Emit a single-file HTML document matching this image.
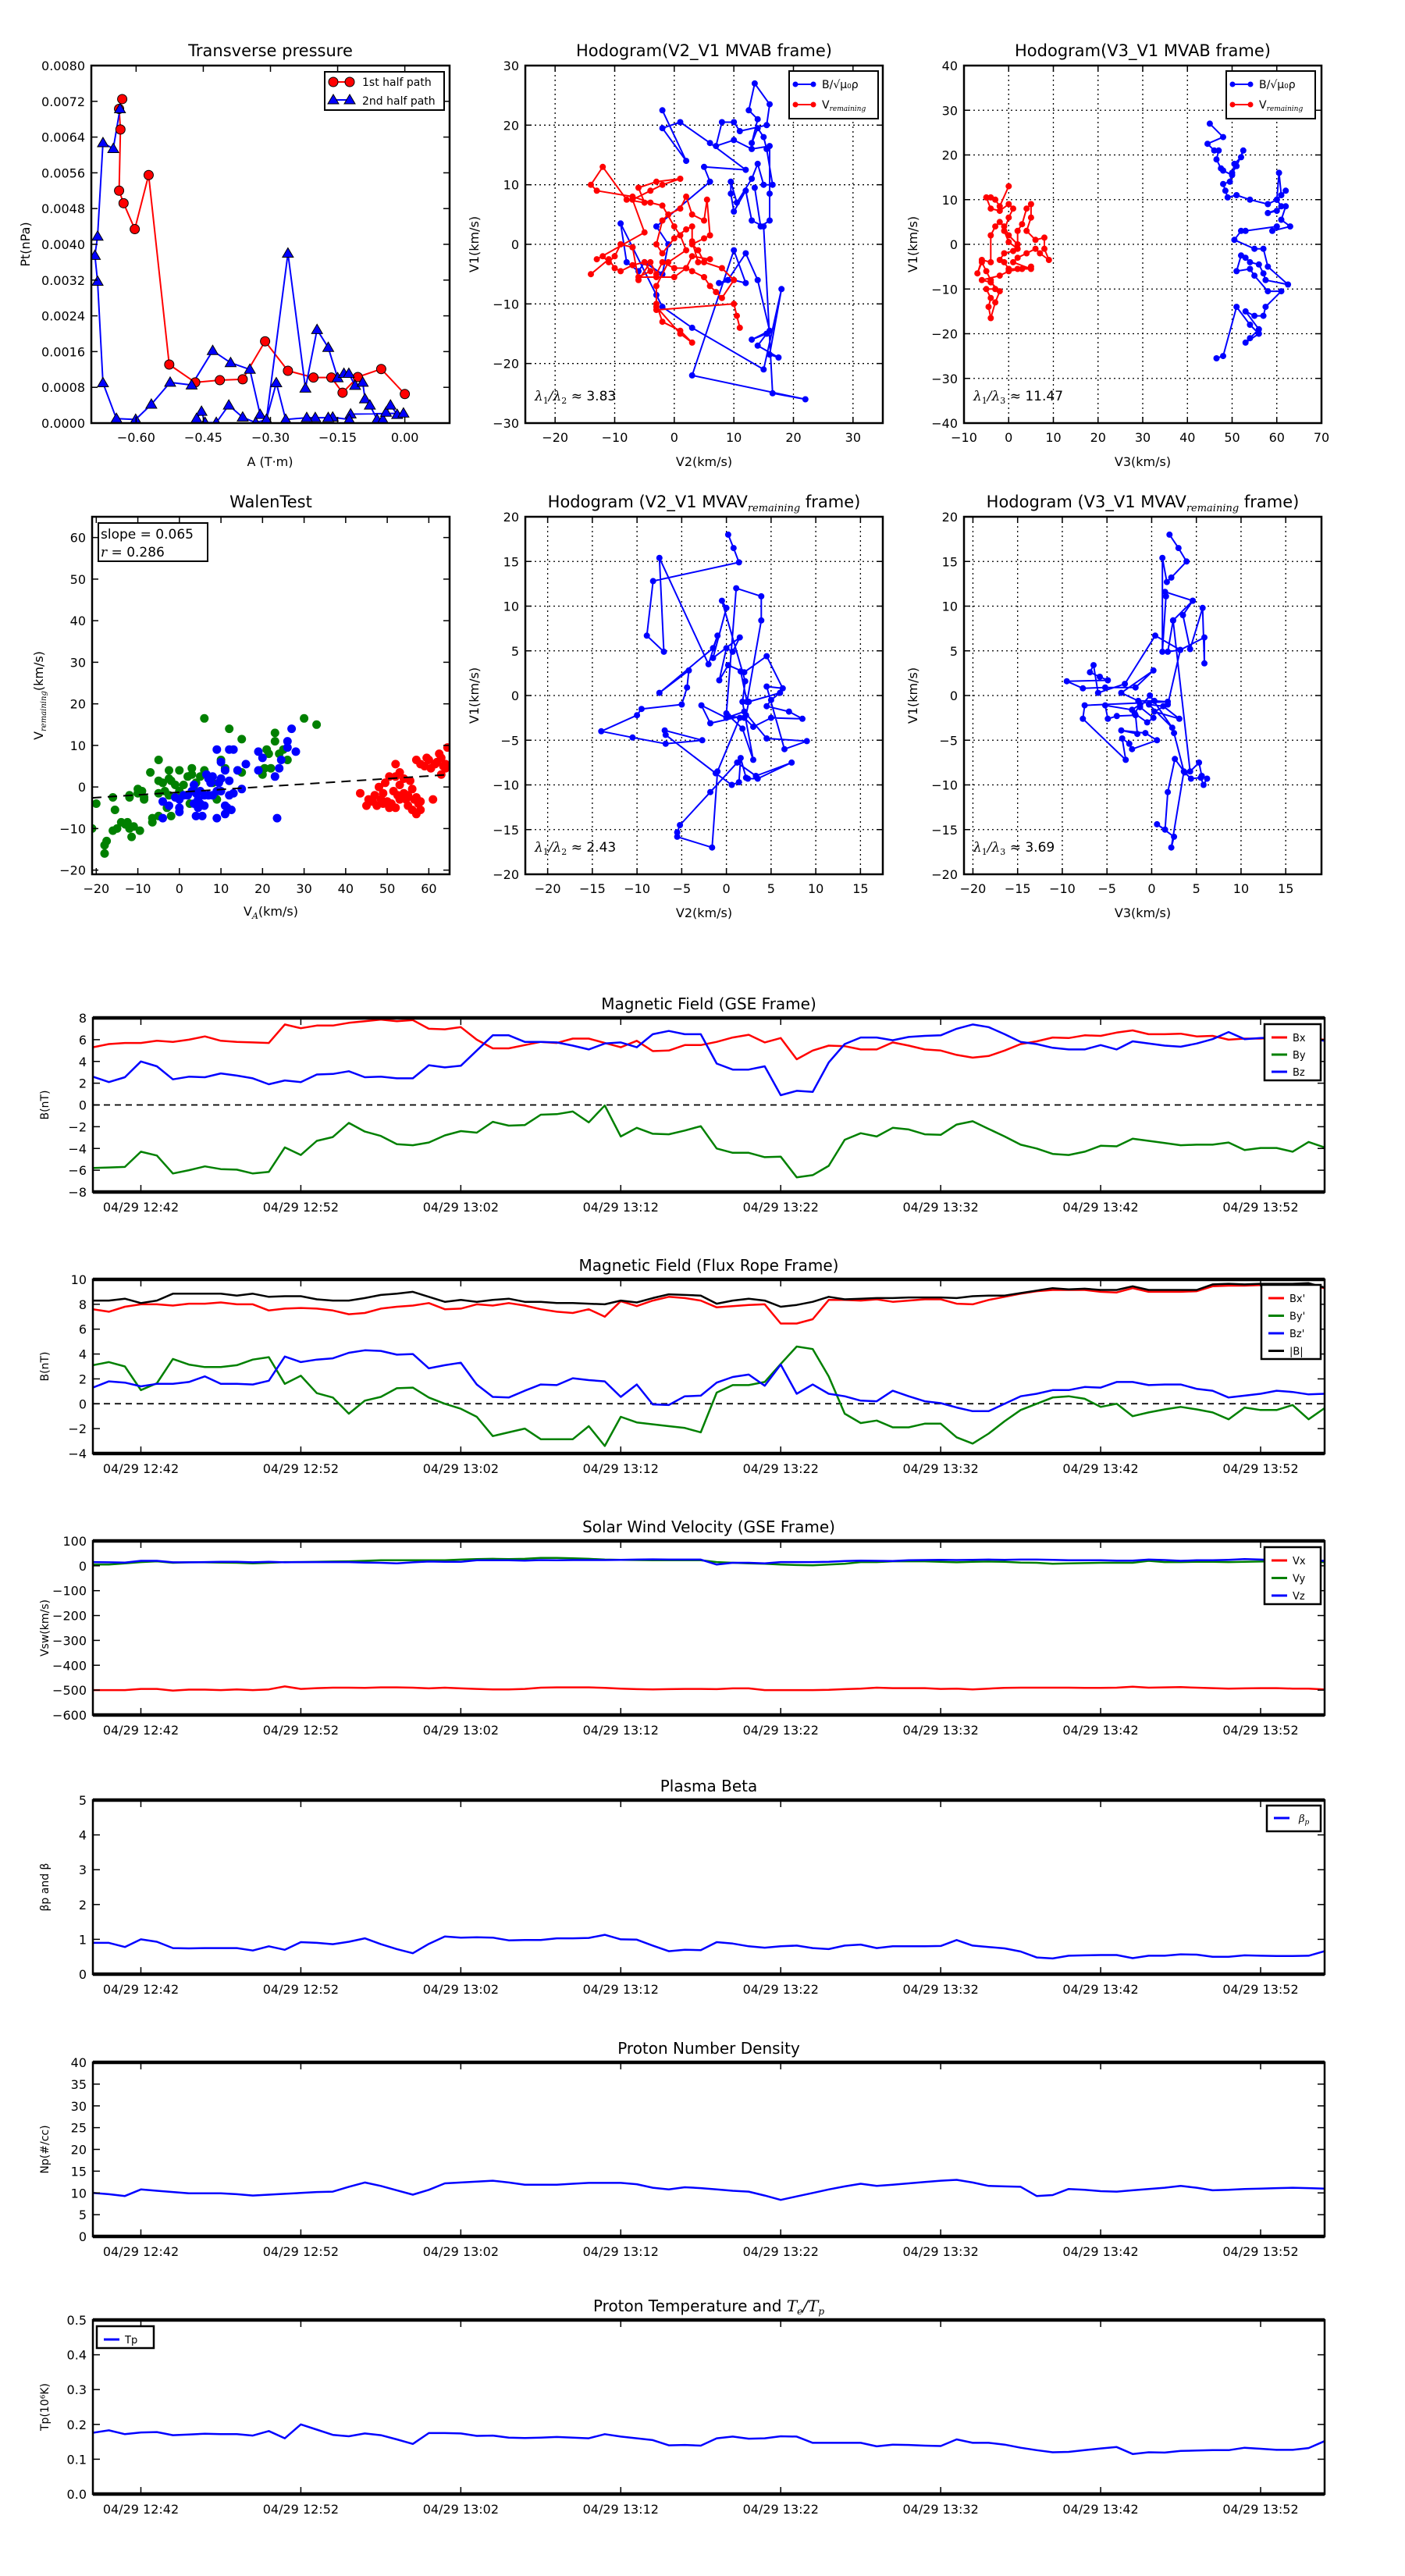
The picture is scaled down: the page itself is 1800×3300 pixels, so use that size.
<!DOCTYPE html>
<html><head><meta charset="utf-8"><title>MVAB / Walen / solar wind summary</title>
<style>
html,body{margin:0;padding:0;background:#fff;}
svg{display:block;font-family:"DejaVu Sans","Liberation Sans",sans-serif;}
</style></head>
<body>
<svg id="fig" xmlns="http://www.w3.org/2000/svg" width="1800" height="3300" viewBox="0 0 1800 3300"></svg>
<script>
// ---------------- DATA ----------------
// Transverse pressure
const ptRedA=[0.0,-0.0527,-0.105,-0.139,-0.164,-0.204,-0.261,-0.312,-0.362,-0.413,-0.468,-0.526,-0.572,-0.603,-0.628,-0.638,-0.635,-0.638,-0.631];
const ptRedP=[0.00065,0.00121,0.00103,0.00068,0.00102,0.00102,0.00117,0.00183,0.00098,0.00096,0.00091,0.00131,0.00555,0.00434,0.00492,0.0052,0.00657,0.00703,0.00725];
const ptBlueA=[-0.636,-0.651,-0.674,-0.686,-0.692,-0.686,-0.674,-0.644,-0.601,-0.566,-0.524,-0.476,-0.429,-0.389,-0.346,-0.323,-0.309,-0.261,-0.222,-0.196,-0.171,-0.150,-0.136,-0.125,-0.111,-0.094,-0.089,-0.078,-0.062,-0.049,-0.042,-0.032,-0.017,-0.003,-0.121,-0.124,-0.161,-0.171,-0.200,-0.219,-0.266,-0.287,-0.309,-0.333,-0.362,-0.393,-0.421,-0.446,-0.454,-0.465];
const ptBlueP=[0.00703,0.00614,0.00627,0.00418,0.00375,0.00317,0.0009,0.0001,0.00008,0.00042,0.00091,0.00085,0.00162,0.00135,0.0012,0.00019,0.00008,0.0038,0.00078,0.00209,0.00169,0.00101,0.00111,0.00111,0.00084,0.00091,0.00054,0.0004,0.00008,0.00008,0.00024,0.0004,0.00019,0.00022,0.0002,0.00008,0.00013,0.00012,0.00012,0.00012,0.00008,0.0009,0.00008,0.00001,0.00013,0.0004,0.00001,0.00001,0.00026,0.0001];
// Walen test
const walenGreen=[[-21,-10],[-20,-4],[-18,-14],[-18,-16],[-17.5,-13],[-16,-2.5],[-16,-10.5],[-15.5,-5.5],[-15,-10],[-14,-8.5],[-13,-9],[-12.5,-8.5],[-12,-2.5],[-12,-2],[-12,-10],[-11.5,-12],[-11,-9.5],[-10,-0.5],[-10,-1.5],[-9.5,-10.5],[-9,-1],[-8.5,-2.5],[-8.5,-3],[-7,3.5],[-6.5,-7.5],[-6.5,-8.5],[-5,6.5],[-5,1.5],[-5,-1.5],[-5,-7],[-4,1],[-3.5,-1],[-3,-5],[-2.5,4],[-2.5,2],[-2.5,-2],[-2,-7],[-2,1.5],[-1,0.5],[0,4],[0,-1],[1,0.5],[2,2.5],[2.5,-4],[3,4.5],[3,3],[4,1],[4,-1],[5,2.5],[6,16.5],[6,4],[8,1],[9,-3],[10,6.5],[10,2],[11,4.5],[12,14],[14,4],[15,11.5],[15,3.5],[19.5,4],[20,3],[20.5,4.5],[21,9],[21.5,8],[22,4.5],[23,13],[23,11],[24,8],[25,9],[26,6.5],[30,16.5],[33,15]];
const walenBlue=[[-4,-3.5],[-4,-7.5],[-2.5,-4.5],[-1,-2.5],[0,-3],[0,-5],[0,-6],[1,-2],[2,-2],[3,-1],[3.5,-4],[3.5,0.5],[4,-1.5],[4,-7],[4.5,-3],[4.5,-5],[5,-1],[5,-4],[5.5,-7],[6,-2],[6,-4.5],[6.5,3],[7,2],[7,-2],[7.5,1],[8,2.5],[8,-2],[9,9],[9,-7.5],[9,-1],[9.5,1],[10,6],[10,2],[10,-1],[11,4],[11,-4.5],[11,-6.5],[11.5,-5],[12,9],[12,1.5],[12,-2],[12.5,-5.5],[13,9],[13,-1.5],[14,4],[15,-0.5],[16,5.5],[19,4],[19,8.5],[20,7],[23,2.5],[23.5,-7.5],[24,4.5],[24.5,6.5],[26,9.5],[26,11],[27,14],[28,8.5]];
const walenRed=[[43.5,-1.5],[45,-4.5],[45.5,-3],[46.5,-3.5],[47,-2],[47.5,-4.5],[48,0],[48.5,-3],[49,-1.5],[49,-4],[49.5,1],[50,-3.5],[50.5,-5],[50.5,2.5],[51,-4],[51.5,-1],[52,2.5],[52,5.5],[52,-5],[52.5,-2],[53,3.5],[53,-3],[53,0.5],[54,2],[54,-1.5],[54.5,-3],[55,-4.5],[55,-2],[55.5,1.5],[56,-0.5],[56,-5.5],[56.5,-3],[57,-2.5],[57,-6.5],[57,6.5],[57.5,-4],[58,-5.5],[58,-3.5],[58,5.5],[59,5],[59.5,7],[60,6.5],[60.5,4.5],[61,-3],[61.5,5.5],[62,6],[62.5,8],[63,3],[63,7],[63.5,5],[64,4.5],[64.5,9.5],[64,5.5]];
const walenSlope=0.065;
const walenIntercept=-1.25;
// Hodogram V2-V1 MVAB
const hodo1Blue=[[-2,22.5],[2,14],[-2,19.5],[1,20.5],[6,17],[12,12.5],[5,13],[6,10.5],[-3,3],[-1,0],[-2,-5],[-5,-3],[-6,-4.5],[-8,-3],[-9,3.5],[-7,-0.5],[-3,-8.5],[-2,-10.5],[3,-14],[15,-21],[18,-7.5],[16,-18.5],[17.5,-19],[14,-17],[15.5,-15],[13,-16],[16,-14.5],[14,-6],[12,-1.5],[9,-6],[7.5,-6.5],[10,-6],[12,-6.5],[10,-1],[3,-22],[22,-26],[16.5,-25],[15,3],[13,4],[12,9],[10,5.5],[9.5,8.5],[9.5,10.5],[10.5,7],[13,11],[14,13.5],[15,10],[16.5,10],[15.5,16],[15,18],[14,19.5],[13,17],[14,21],[12.5,22.5],[13.5,27],[16,23.5],[15.5,20],[11,19],[10,20.5],[8,20.5],[7,16.5],[10,17.5],[13,16],[16,16.5],[16,8.5],[16,4],[14.5,3],[13.5,9.5]];
const hodo1Red=[[-14,-5],[-11,-2.5],[-10,-4],[-9,-4.5],[-7,-3.5],[-5,-3],[-4,-4.5],[-6,-5.5],[-3,-5.5],[0,-5.5],[2,-4],[3,-4.5],[5,-5.5],[6,-7],[7,-8],[8,-9],[10,-6],[8,-4],[5,-3],[4,-1],[3,0],[5,1],[6,1.5],[5.5,7.5],[5,4],[3,5],[2,8],[1,6],[-1,5],[-2,4],[-3,0],[-2,-1.5],[0,1],[2,2.5],[3,3],[3,0.5],[4,-3],[6,-2.5],[3,-2],[2,-4],[0,-4],[-2,-3],[-3,-5],[-4,-3],[-6,-6],[-7,-0.5],[-9,0],[-10,-2],[-11,-3],[-12,-2],[-13,-2.5],[-5,2],[-7,7.5],[-4,9],[-2,10],[1,11],[-3,10.5],[-6,9.5],[-5,7],[-8,7.5],[-12,13],[-14,10],[-13,9],[-7,8],[-4,7],[-2,6.5],[0,3],[1,1.5],[2,-1],[-1,-3],[-3,-7],[-3,-10],[-2,-13],[1,-14.5],[3,-16.5],[1,-15],[-3,-10.5],[-3,-11],[10,-10],[10.5,-12],[11,-14]];
const hodo1Ratio="3.83";
// Hodogram V3-V1 MVAB
const hodo2Blue=[[45,27],[48,24],[44.5,22.5],[46,21],[47,21],[46.5,19],[47.5,17],[48,16.5],[50,15.5],[50.5,18],[52,19.5],[52.5,21],[51,17.5],[50,16],[49.5,14],[48,13.5],[48.5,12],[49,10.5],[51,11],[54,10],[58,9],[60,10],[60.5,16],[61,11],[62,12],[60,10],[61,8.5],[60,7.5],[58,7],[62,8.5],[61,5.5],[63,4],[59,3],[60,4],[53,3],[52,3],[50.5,1],[55,-1],[57,-1],[58,-5],[62.5,-9],[57.5,-8],[57,-6.5],[56,-4.5],[54,-4],[53,-3],[52,-2.5],[51,-6],[54,-5.5],[55,-7],[58,-10.5],[61,-10.5],[57.5,-14],[57,-16],[55,-16],[53,-15],[56,-19],[54,-21],[53,-22],[56,-20],[54,-18],[51,-14],[48,-25],[46.5,-25.5]];
const hodo2Red=[[0,13],[-2,8.5],[-3,10],[-4,10.5],[-5,10.5],[-4,8],[-2,7.5],[0,9],[1,8],[0,6],[-1,3],[0,0.5],[2,-1],[2,3],[3,4.5],[4,8],[5,9],[5,6],[4,3],[6,1],[8,1.5],[8,-1],[9,-3.5],[7,-2],[6,-1],[4,-2],[2,-3],[1,-4],[5,-5.5],[2,-5.5],[0,-5.5],[-1,-4],[-2,-3.5],[-1,-2],[1,-1.5],[2,0],[0,2],[-1,4],[-2,5],[-3,4],[-4,2],[-4,-4],[-6,-3.5],[-7,-6.5],[-6,-4],[-5,-6],[-4,-8],[-3,-10],[-5,-10],[-4,-12],[-4.5,-14],[-4,-16.5],[-3,-13],[-2,-10.5],[-4,-8.5],[-6,-8],[-2,-7],[0,-6],[3,-5.5],[5,-5]];
const hodo2Ratio="11.47";
// Hodogram V2-V1 MVAV
const hodo3Blue=[[0.2,18],[0.8,16.5],[1.4,14.9],[-8.2,12.8],[-8.9,6.7],[-7.0,4.9],[-7.5,15.4],[-2,3.5],[-1,6.7],[-1.5,5.3],[-7.5,0.3],[-4.2,2.8],[-4.4,0.9],[-5,-1],[-9.5,-1.5],[-10,-2.2],[-14,-4],[-10.5,-4.7],[-6.8,-5.4],[-2.7,-5],[-6.9,-3.9],[-6.8,-4.4],[-1.2,-8.7],[0.6,-10],[1.4,-9.7],[1.6,-7],[2.2,-9.2],[2.4,-9.3],[3.5,-9.3],[7.3,-7.5],[3.3,-9],[1.2,-7.5],[-1.8,-10.8],[-5.2,-14.5],[-5.5,-15.3],[-5.5,-15.8],[-1.6,-17],[-1,-8.5],[1.5,-2.5],[0.2,-2.3],[2,-2.5],[3,-3.5],[5,-2.5],[8.5,-2.6],[7,-1.8],[4.5,-1.2],[5,-0.5],[6,0.3],[2.5,-0.7],[2.2,-2.2],[-1.8,-3.1],[-2.8,-1.1],[0,-2.5],[2,-1.8],[4.5,-4.8],[9,-5.1],[6.5,-6],[4.5,1],[6.3,0.8],[4.5,4.4],[2,2.6],[0.2,3.4],[-0.8,1.7],[0,5.3],[0.7,4.9],[1.5,6.5],[-1.5,4.2],[0,9.8],[-0.5,10.6],[2.1,1.6],[1.8,-0.7],[3,-7.2],[1.8,-3.7],[0,-2],[1.1,12],[3.9,11.1],[3.9,8.4],[2.3,-0.7],[1.6,2.7]];
const hodo3Ratio="2.43";
// Hodogram V3-V1 MVAV
const hodo4Blue=[[2,18],[3,16.5],[3.9,15],[2.2,13.2],[1.7,12.7],[1.2,15.4],[1.2,4.9],[1.6,11.1],[1.5,11.6],[4.6,10.6],[2.4,8.4],[1.8,4.9],[3.2,5.1],[0.4,6.7],[-3,1.3],[-6,0.3],[-6.5,3.4],[-6.9,2.6],[-5.8,2.1],[-4.9,1.7],[-9.5,1.6],[-7.7,0.8],[-5.2,0.9],[-1.8,0.9],[0.2,2.8],[-3.4,0.3],[-1.5,-0.6],[0.3,-0.6],[1.8,-0.7],[-7.5,-1.1],[-7.7,-2.6],[-2.9,-7.2],[-3.3,-4.8],[-2.5,-5.4],[-2.2,-6],[0.6,-5],[-0.7,-4.2],[-3.4,-3.9],[-1.6,-4.3],[-1.8,-2.2],[-3.9,-2.3],[-4.9,-2.6],[-5.2,-1.1],[-2.2,-1.6],[-1.3,-1],[-1.9,-2],[-0.5,-3],[0.2,-2.5],[-1.3,-1.3],[-0.2,0],[2.3,-3.6],[-0.3,-1],[1.3,-1.2],[3.1,-2.6],[0.3,-1.8],[1.8,-1],[3.2,5.1],[5.9,6.5],[5.9,3.6],[5.7,9.8],[4.3,5.2],[3.5,9],[4.6,10.6],[2.4,8.4],[4.3,-8.5],[5.3,-7.5],[5.6,-9],[6.2,-9.3],[5.8,-10],[5.5,-9.2],[4.4,-9.3],[3.7,-8.6],[2.6,-7.1],[1.8,-10.8],[1.5,-15],[0.6,-14.4],[2.5,-15.8],[2.2,-17],[3.6,-8.5],[2.5,-4.2]];
const hodo4Ratio="3.69";
// Time series (1-minute samples starting 04/29 12:39)
const startMinute=39;
const timeTickMinutes=[42,52,62,72,82,92,102,112];
const timeTickLabels=["04/29 12:42","04/29 12:52","04/29 13:02","04/29 13:12","04/29 13:22","04/29 13:32","04/29 13:42","04/29 13:52"];
const Bx=[5.3,5.6,5.7,5.7,5.9,5.8,6.0,6.3,5.9,5.8,5.75,5.7,7.4,7.05,7.3,7.3,7.55,7.7,7.85,7.7,7.8,7.0,6.95,7.15,6.0,5.2,5.2,5.5,5.8,5.7,6.1,6.1,5.7,5.3,5.9,4.95,5.0,5.5,5.5,5.8,6.2,6.45,5.75,6.15,4.2,5.0,5.45,5.4,5.1,5.1,5.75,5.45,5.1,5.0,4.6,4.35,4.5,5.0,5.6,5.85,6.2,6.15,6.4,6.35,6.65,6.85,6.5,6.5,6.55,6.3,6.35,6.0,6.1,6.1,6.2,6.3,6.1,6.0];
const By=[-5.8,-5.75,-5.7,-4.3,-4.65,-6.3,-6.0,-5.65,-5.9,-5.95,-6.3,-6.15,-3.9,-4.6,-3.3,-2.95,-1.65,-2.45,-2.85,-3.6,-3.7,-3.45,-2.8,-2.4,-2.55,-1.55,-1.9,-1.85,-0.9,-0.85,-0.6,-1.6,-0.05,-2.9,-2.1,-2.65,-2.7,-2.35,-1.95,-4.0,-4.4,-4.4,-4.8,-4.75,-6.65,-6.45,-5.6,-3.2,-2.6,-2.9,-2.1,-2.25,-2.7,-2.75,-1.8,-1.5,-2.2,-2.9,-3.65,-4.0,-4.5,-4.6,-4.3,-3.75,-3.8,-3.1,-3.3,-3.5,-3.7,-3.65,-3.65,-3.45,-4.15,-3.95,-3.95,-4.3,-3.4,-3.9];
const Bz=[2.6,2.1,2.55,4.0,3.55,2.35,2.6,2.55,2.9,2.7,2.45,1.9,2.25,2.1,2.8,2.85,3.1,2.55,2.6,2.45,2.45,3.65,3.45,3.6,5.0,6.4,6.4,5.8,5.8,5.75,5.45,5.1,5.65,5.75,5.3,6.5,6.8,6.5,6.5,3.8,3.25,3.25,3.55,0.9,1.3,1.2,3.9,5.6,6.2,6.2,5.95,6.25,6.35,6.4,7.0,7.4,7.15,6.5,5.8,5.6,5.25,5.1,5.1,5.5,5.1,5.85,5.65,5.45,5.35,5.65,6.05,6.7,6.05,6.15,6.2,6.2,6.1,5.9];
const BxFR=[7.6,7.4,7.8,8.0,8.0,7.9,8.05,8.05,8.15,8.0,8.0,7.5,7.65,7.7,7.65,7.5,7.2,7.3,7.65,7.8,7.9,8.1,7.6,7.65,8.0,7.9,8.1,7.9,7.6,7.4,7.3,7.6,7.0,8.25,7.85,8.3,8.6,8.5,8.3,7.75,7.85,7.95,8.0,6.45,6.45,6.8,8.35,8.35,8.3,8.4,8.2,8.3,8.4,8.4,8.05,8.0,8.35,8.6,8.85,9.05,9.15,9.15,9.15,9.0,8.95,9.3,9.0,9.0,9.0,9.05,9.45,9.5,9.5,9.55,9.6,9.6,9.55,9.3];
const ByFR=[3.1,3.35,3.0,1.1,1.65,3.6,3.15,2.95,2.95,3.1,3.55,3.75,1.6,2.25,0.85,0.5,-0.8,0.25,0.55,1.25,1.3,0.5,0.0,-0.4,-1.05,-2.6,-2.3,-2.0,-2.85,-2.85,-2.85,-1.8,-3.4,-1.05,-1.5,-1.65,-1.8,-1.95,-2.3,0.9,1.5,1.5,1.75,3.2,4.6,4.4,2.2,-0.8,-1.55,-1.35,-1.9,-1.9,-1.6,-1.6,-2.7,-3.2,-2.4,-1.4,-0.5,0.0,0.5,0.6,0.4,-0.25,0.0,-1.0,-0.7,-0.45,-0.25,-0.45,-0.7,-1.25,-0.3,-0.5,-0.5,-0.1,-1.25,-0.35];
const BzFR=[1.3,1.8,1.7,1.4,1.6,1.6,1.75,2.2,1.6,1.6,1.55,1.85,3.8,3.35,3.55,3.65,4.1,4.3,4.25,3.95,4.0,2.85,3.1,3.3,1.55,0.55,0.5,1.05,1.55,1.5,2.05,1.9,1.8,0.55,1.55,-0.05,-0.1,0.6,0.65,1.7,2.15,2.35,1.45,3.15,0.8,1.55,0.8,0.6,0.25,0.2,1.05,0.6,0.2,0.05,-0.3,-0.6,-0.6,0.0,0.6,0.8,1.1,1.1,1.35,1.3,1.75,1.75,1.5,1.55,1.55,1.2,1.05,0.5,0.65,0.8,1.05,0.95,0.75,0.8];
const Bmag=[8.3,8.3,8.45,8.1,8.3,8.85,8.85,8.85,8.85,8.7,8.85,8.6,8.65,8.65,8.4,8.3,8.3,8.5,8.75,8.85,9.0,8.6,8.2,8.35,8.2,8.35,8.45,8.2,8.2,8.1,8.1,8.05,8.0,8.3,8.15,8.5,8.8,8.75,8.7,8.05,8.3,8.45,8.3,7.8,7.95,8.2,8.6,8.4,8.45,8.5,8.5,8.55,8.55,8.55,8.5,8.65,8.7,8.7,8.9,9.1,9.3,9.2,9.25,9.15,9.15,9.45,9.15,9.15,9.15,9.15,9.6,9.65,9.6,9.65,9.65,9.65,9.7,9.35];
const Vx=[-500,-500,-500,-495,-495,-502,-498,-498,-500,-497,-500,-497,-485,-495,-492,-490,-490,-491,-489,-489,-490,-493,-490,-493,-495,-497,-497,-495,-490,-489,-489,-489,-491,-494,-496,-497,-496,-495,-495,-496,-493,-493,-500,-500,-500,-500,-499,-496,-494,-490,-492,-492,-492,-495,-494,-497,-494,-491,-490,-490,-490,-490,-491,-491,-490,-486,-490,-489,-488,-490,-492,-494,-493,-492,-492,-494,-494,-497];
const Vy=[5,5,10,15,18,12,14,14,13,12,10,12,15,15,16,17,18,20,22,22,22,22,22,25,27,28,27,28,32,32,30,28,25,24,23,22,22,22,22,15,12,10,8,5,3,2,5,8,15,15,18,18,18,16,14,16,17,16,13,12,8,10,11,12,12,12,20,15,15,16,16,15,16,17,18,18,18,15];
const Vz=[15,14,13,20,20,14,14,15,16,16,14,16,14,15,15,15,15,13,12,10,14,17,16,16,22,22,22,21,23,22,23,23,23,24,25,26,25,25,25,5,12,12,10,15,15,15,16,19,21,20,19,22,23,24,23,24,25,24,25,25,24,22,22,22,21,21,25,23,20,22,22,24,27,25,22,22,20,20];
const betaP=[0.9,0.9,0.78,1.0,0.93,0.75,0.74,0.75,0.75,0.75,0.68,0.8,0.7,0.92,0.9,0.86,0.93,1.03,0.86,0.72,0.6,0.87,1.08,1.05,1.06,1.05,0.97,0.98,0.98,1.03,1.03,1.04,1.13,1.0,0.99,0.82,0.66,0.7,0.69,0.92,0.88,0.8,0.76,0.8,0.82,0.75,0.72,0.82,0.85,0.75,0.8,0.8,0.8,0.81,0.98,0.82,0.78,0.74,0.65,0.48,0.45,0.53,0.54,0.55,0.55,0.46,0.53,0.53,0.57,0.56,0.5,0.5,0.54,0.53,0.52,0.52,0.53,0.66];
const Np=[10.0,9.7,9.3,10.8,10.5,10.2,9.9,9.9,9.9,9.7,9.4,9.6,9.8,10.0,10.2,10.3,11.4,12.4,11.6,10.6,9.6,10.7,12.2,12.4,12.6,12.8,12.4,11.9,11.9,11.9,12.1,12.3,12.3,12.3,12.0,11.2,10.8,11.3,11.1,10.8,10.5,10.3,9.4,8.4,9.2,10.0,10.8,11.5,12.1,11.6,11.9,12.2,12.5,12.8,13.0,12.4,11.6,11.5,11.4,9.3,9.5,10.9,10.7,10.4,10.3,10.6,10.9,11.2,11.6,11.2,10.6,10.7,10.9,11.0,11.1,11.2,11.1,11.0];
const Tp=[0.176,0.183,0.172,0.177,0.178,0.169,0.171,0.173,0.172,0.172,0.168,0.181,0.16,0.2,0.185,0.17,0.166,0.174,0.169,0.157,0.144,0.175,0.175,0.174,0.167,0.168,0.162,0.161,0.162,0.164,0.162,0.16,0.172,0.165,0.16,0.155,0.14,0.141,0.139,0.16,0.165,0.159,0.16,0.166,0.165,0.147,0.147,0.147,0.147,0.137,0.142,0.141,0.139,0.138,0.157,0.147,0.147,0.142,0.133,0.126,0.12,0.121,0.126,0.131,0.135,0.115,0.12,0.119,0.124,0.125,0.126,0.126,0.133,0.13,0.127,0.127,0.132,0.152];

// ---------------- HELPERS ----------------
const NS='http://www.w3.org/2000/svg';
const svg=document.getElementById('fig');
let clipN=0;
function E(tag,attrs,parent){const e=document.createElementNS(NS,tag);for(const k in attrs)e.setAttribute(k,attrs[k]);(parent||svg).appendChild(e);return e;}
function txt(s,x,y,size,anchor,parent,extra){const t=E('text',Object.assign({x:x,y:y,'font-size':size,'text-anchor':anchor||'middle',fill:'#000'},extra||{}),parent);t.textContent=s;return t;}
function fmtMinus(s){return String(s).replace('-','\u2212');}

function axes(name,box,xr,yr,o){
  const g=E('g',{});
  
  
  const sx=v=>box.x+(v-xr[0])/(xr[1]-xr[0])*box.w;
  const sy=v=>box.y+box.h-(v-yr[0])/(yr[1]-yr[0])*box.h;
  const id='clip'+(clipN++);
  const cp=E('clipPath',{id:id},g);
  E('rect',{x:box.x,y:box.y,width:box.w,height:box.h},cp);
  const tl=o.tickLen||8;
  if(o.grid){
    o.xticks.forEach(v=>{const l=E('line',{x1:sx(v),x2:sx(v),y1:box.y,y2:box.y+box.h,stroke:'#000','stroke-width':1.3,'stroke-dasharray':'2,4'},g);
      
      });
    o.yticks.forEach(v=>{const l=E('line',{x1:box.x,x2:box.x+box.w,y1:sy(v),y2:sy(v),stroke:'#000','stroke-width':1.3,'stroke-dasharray':'2,4'},g);
      
      });
  }
  const plot=E('g',{'clip-path':'url(#'+id+')'},g);
  
  
  // ticks
  o.xticks.forEach((v,i)=>{
    const X=sx(v);
    const t1=E('line',{x1:X,x2:X,y1:box.y+box.h,y2:box.y+box.h-tl,stroke:'#000','stroke-width':1.5},g);
    
    
    const t2=E('line',{x1:X,x2:X,y1:box.y,y2:box.y+tl,stroke:'#000','stroke-width':1.5},g);
    
    
    const lab=o.xlabels?o.xlabels[i]:fmtMinus(o.xfmt?o.xfmt(v):v);
    const tt=txt(lab,X,box.y+box.h+(o.xlabOff||24),o.tickSize||16,'middle',g);
    
    
  });
  o.yticks.forEach(v=>{
    const Y=sy(v);
    const t1=E('line',{x1:box.x,x2:box.x+tl,y1:Y,y2:Y,stroke:'#000','stroke-width':1.5},g);
    
    
    const t2=E('line',{x1:box.x+box.w,x2:box.x+box.w-tl,y1:Y,y2:Y,stroke:'#000','stroke-width':1.5},g);
    
    
    const tt=txt(fmtMinus(o.yfmt?o.yfmt(v):v),box.x-8,Y+6,o.tickSize||16,'end',g);
    
    
  });
  const fr=E('rect',{x:box.x,y:box.y,width:box.w,height:box.h,fill:'none',stroke:'#000','stroke-width':2.5},g);
  
  
  if(o.thickTB){
    const a=E('line',{x1:box.x,x2:box.x+box.w,y1:box.y,y2:box.y,stroke:'#000','stroke-width':4.5},g);
    
    
    const b=E('line',{x1:box.x,x2:box.x+box.w,y1:box.y+box.h,y2:box.y+box.h,stroke:'#000','stroke-width':4.5},g);
    
    
  }
  if(o.title){const t=txt(o.title,box.x+box.w/2,box.y-12,o.titleSize||21,'middle',g);
    
    }
  return {g,plot,sx,sy,box};
}
function polyline(ax,xs,ys,color,w,name){
  const pts=xs.map((x,i)=>ax.sx(x).toFixed(1)+','+ax.sy(ys[i]).toFixed(1)).join(' ');
  const p=E('polyline',{points:pts,fill:'none',stroke:color,'stroke-width':w,'stroke-linejoin':'round'},ax.plot);
  
  
  return p;
}
function dots(ax,pairs,color,r,name){
  const g=E('g',{fill:color},ax.plot);
  
  
  pairs.forEach(p=>{const c=E('circle',{cx:ax.sx(p[0]).toFixed(1),cy:ax.sy(p[1]).toFixed(1),r:r},g);
    
    });
}
function rotLabel(s,x,y,size,parent){
  const t=txt(s,x,y,size,'middle',parent,{transform:'rotate(-90 '+x+' '+y+')'});
  return t;
}

// ---------------- TRANSVERSE PRESSURE ----------------
(function(){
  const ax=axes('transverse-pressure-chart',{x:117,y:84,w:459,h:458},[-0.7,0.1],[0,0.008],
    {xticks:[-0.6,-0.45,-0.3,-0.15,0],yticks:[0,0.0008,0.0016,0.0024,0.0032,0.004,0.0048,0.0056,0.0064,0.0072,0.008],
     xfmt:v=>v.toFixed(2),yfmt:v=>v.toFixed(4),title:'Transverse pressure',tickSize:16});
  polyline(ax,ptRedA,ptRedP,'#f00',2,'first-half-path-line');
  polyline(ax,ptBlueA,ptBlueP,'#00f',2,'second-half-path-line');
  const gr=E('g',{},ax.plot);
  
  
  ptRedA.forEach((a,i)=>{const c=E('circle',{cx:ax.sx(a),cy:ax.sy(ptRedP[i]),r:6,fill:'#f00',stroke:'#000','stroke-width':1},gr);
    
    });
  const gb=E('g',{},ax.plot);
  
  
  ptBlueA.forEach((a,i)=>{const X=ax.sx(a),Y=ax.sy(ptBlueP[i]);
    const t=E('polygon',{points:(X)+','+(Y-7)+' '+(X-7)+','+(Y+5)+' '+(X+7)+','+(Y+5),fill:'#00f',stroke:'#000','stroke-width':1},gb);
    
    });
  const xl=txt('A (T\u00b7m)',346,597,16,'middle');
  
  
  const yl=rotLabel('Pt(nPa)',38,313,16);
  
  
  const lg=E('g',{});
  
  
  E('rect',{x:416,y:92,width:153,height:49,fill:'#fff',stroke:'#000','stroke-width':2},lg);
  E('line',{x1:427,x2:448,y1:105,y2:105,stroke:'#f00','stroke-width':2},lg);
  E('circle',{cx:427,cy:105,r:6,fill:'#f00',stroke:'#000'},lg);
  E('circle',{cx:448,cy:105,r:6,fill:'#f00',stroke:'#000'},lg);
  const l1=txt('1st half path',464,110,14,'start',lg);
  
  
  E('line',{x1:427,x2:448,y1:128,y2:128,stroke:'#00f','stroke-width':2},lg);
  E('polygon',{points:'427,121 420,133 434,133',fill:'#00f',stroke:'#000'},lg);
  E('polygon',{points:'448,121 441,133 455,133',fill:'#00f',stroke:'#000'},lg);
  const l2=txt('2nd half path',464,134,14,'start',lg);
  
  
})();

// ---------------- HODOGRAMS ----------------
function lambdaText(parent,x,y,sub2,val){
  const t=E('text',{x:x,y:y,'font-size':17,'font-family':'"DejaVu Serif","Liberation Serif",serif'},parent);
  
  
  const a=E('tspan',{'font-style':'italic'},t);a.textContent='\u03bb';
  const b=E('tspan',{'font-size':11,dy:4},t);b.textContent='1';
  const c=E('tspan',{dy:-4,'font-style':'italic'},t);c.textContent='/\u03bb';
  const d=E('tspan',{'font-size':11,dy:4},t);d.textContent=sub2;
  const e=E('tspan',{dy:-4,'font-family':'"DejaVu Sans",sans-serif'},t);e.textContent=' \u2248 '+val;
}
function hodoLegend(x,y,showRed){
  const lg=E('g',{});
  
  
  E('rect',{x:x,y:y,width:114,height:61,fill:'#fff',stroke:'#000','stroke-width':2},lg);
  E('line',{x1:x+8,x2:x+31,y1:y+17,y2:y+17,stroke:'#00f','stroke-width':2},lg);
  E('circle',{cx:x+8,cy:y+17,r:3.5,fill:'#00f'},lg);E('circle',{cx:x+31,cy:y+17,r:3.5,fill:'#00f'},lg);
  const t1=txt('B/\u221a\u03bc\u2080\u03c1',x+42,y+22,14,'start',lg);
  
  
  E('line',{x1:x+8,x2:x+31,y1:y+43,y2:y+43,stroke:'#f00','stroke-width':2},lg);
  E('circle',{cx:x+8,cy:y+43,r:3.5,fill:'#f00'},lg);E('circle',{cx:x+31,cy:y+43,r:3.5,fill:'#f00'},lg);
  const t2=E('text',{x:x+42,y:y+48,'font-size':14},lg);
  
  
  const s1=E('tspan',{},t2);s1.textContent='V';
  const s2=E('tspan',{'font-size':9,dy:3,'font-style':'italic','font-family':'"DejaVu Serif",serif'},t2);s2.textContent='remaining';
}
function hodoPlot(name,box,xr,yr,xt,yt,title,xlab,blue,red,sub2,ratio,titleSub){
  const ax=axes(name,box,xr,yr,{xticks:xt,yticks:yt,grid:true,tickSize:16});
  // title
  const t=E('text',{x:box.x+box.w/2,y:box.y-12,'font-size':21,'text-anchor':'middle'},ax.g);
  
  
  if(titleSub){
    const a=E('tspan',{},t);a.textContent=title[0];
    const b=E('tspan',{'font-size':13,dy:5,'font-style':'italic','font-family':'"DejaVu Serif",serif'},t);b.textContent='remaining';
    const c=E('tspan',{dy:-5},t);c.textContent=title[1];
  } else t.textContent=title;
  polyline(ax,blue.map(p=>p[0]),blue.map(p=>p[1]),'#00f',2,'alfven-velocity-line');
  dots(ax,blue,'#00f',4,'alfven-velocity');
  if(red){polyline(ax,red.map(p=>p[0]),red.map(p=>p[1]),'#f00',2,'v-remaining-line');
    dots(ax,red,'#f00',4,'v-remaining');}
  const xl=txt(xlab,box.x+box.w/2,box.y+box.h+55,16,'middle');
  
  
  const yl=rotLabel('V1(km/s)',box.x-60,box.y+box.h/2,16);
  
  
  lambdaText(ax.g,box.x+12,box.y+box.h-29,sub2,ratio);
  return ax;
}
hodoPlot('hodogram-v2-v1-mvab',{x:673,y:84,w:458,h:458},[-25,35],[-30,30],[-20,-10,0,10,20,30],[-30,-20,-10,0,10,20,30],
  'Hodogram(V2_V1 MVAB frame)','V2(km/s)',hodo1Blue,hodo1Red,'2',hodo1Ratio,false);
hodoLegend(1011,91);
hodoPlot('hodogram-v3-v1-mvab',{x:1235,y:84,w:458,h:458},[-10,70],[-40,40],[-10,0,10,20,30,40,50,60,70],[-40,-30,-20,-10,0,10,20,30,40],
  'Hodogram(V3_V1 MVAB frame)','V3(km/s)',hodo2Blue,hodo2Red,'3',hodo2Ratio,false);
hodoLegend(1571,91);
hodoPlot('hodogram-v2-v1-mvav',{x:673,y:662,w:458,h:458},[-22.5,17.5],[-20,20],[-20,-15,-10,-5,0,5,10,15],[-20,-15,-10,-5,0,5,10,15,20],
  ['Hodogram (V2_V1 MVAV',' frame)'],'V2(km/s)',hodo3Blue,null,'2',hodo3Ratio,true);
hodoPlot('hodogram-v3-v1-mvav',{x:1235,y:662,w:458,h:458},[-21,19],[-20,20],[-20,-15,-10,-5,0,5,10,15],[-20,-15,-10,-5,0,5,10,15,20],
  ['Hodogram (V3_V1 MVAV',' frame)'],'V3(km/s)',hodo4Blue,null,'3',hodo4Ratio,true);

// ---------------- WALEN TEST ----------------
(function(){
  const ax=axes('walen-test-chart',{x:118,y:662,w:458,h:458},[-21,65],[-21,65],
    {xticks:[-20,-10,0,10,20,30,40,50,60],yticks:[-20,-10,0,10,20,30,40,50,60],title:'WalenTest',tickSize:16});
  dots(ax,walenGreen,'#008000',5.5,'walen-green');
  dots(ax,walenBlue,'#00f',5.5,'walen-blue');
  dots(ax,walenRed,'#f00',5.5,'walen-red');
  const fx=[-21,65];
  const fl=E('line',{x1:ax.sx(fx[0]),y1:ax.sy(walenSlope*fx[0]+walenIntercept),x2:ax.sx(fx[1]),y2:ax.sy(walenSlope*fx[1]+walenIntercept),stroke:'#000','stroke-width':2,'stroke-dasharray':'12,8'},ax.plot);
  
  
  const bx=E('g',{});
  
  
  E('rect',{x:126,y:670,width:140,height:49,fill:'#fff',stroke:'#000','stroke-width':2},bx);
  txt('slope = '+walenSlope.toFixed(3),129,690,17,'start',bx);
  const r=E('text',{x:129,y:713,'font-size':17},bx);
  const r1=E('tspan',{'font-style':'italic','font-family':'"DejaVu Serif",serif'},r);r1.textContent='r';
  const r2=E('tspan',{},r);r2.textContent=' = 0.286';
  const xl=E('text',{x:347,y:1173,'font-size':16,'text-anchor':'middle'});
  
  
  const a=E('tspan',{},xl);a.textContent='V';
  const b=E('tspan',{'font-size':11,dy:4,'font-style':'italic','font-family':'"DejaVu Serif",serif'},xl);b.textContent='A';
  const c=E('tspan',{dy:-4},xl);c.textContent='(km/s)';
  const yl=E('text',{x:55,y:891,'font-size':16,'text-anchor':'middle',transform:'rotate(-90 55 891)'});
  
  
  const d=E('tspan',{},yl);d.textContent='V';
  const e=E('tspan',{'font-size':10,dy:4,'font-style':'italic','font-family':'"DejaVu Serif",serif'},yl);e.textContent='remaining';
  const f=E('tspan',{dy:-4},yl);f.textContent='(km/s)';
})();

// ---------------- TIME SERIES ----------------
function tsPanel(name,top,yr,yticks,yfmt,series,title,ylabel,zero,legend){
  const box={x:119,y:top,w:1578,h:223};
  const ax=axes(name,box,[39,116],yr,{xticks:timeTickMinutes,xlabels:timeTickLabels,yticks:yticks,yfmt:yfmt,
    tickSize:16,xlabOff:25,thickTB:true,tickLen:9});
  const t=E('text',{x:908,y:top-11,'font-size':20,'text-anchor':'middle'},ax.g);
  
  
  if(Array.isArray(title)){
    const a=E('tspan',{},t);a.textContent=title[0];
    const b=E('tspan',{'font-style':'italic','font-family':'"DejaVu Serif",serif'},t);b.textContent='T';
    const c=E('tspan',{'font-size':12,dy:4,'font-style':'italic','font-family':'"DejaVu Serif",serif'},t);c.textContent='e';
    const d=E('tspan',{dy:-4,'font-style':'italic','font-family':'"DejaVu Serif",serif'},t);d.textContent='/T';
    const e=E('tspan',{'font-size':12,dy:4,'font-style':'italic','font-family':'"DejaVu Serif",serif'},t);e.textContent='p';
  } else t.textContent=title;
  if(zero){const z=E('line',{x1:box.x,x2:box.x+box.w,y1:ax.sy(0),y2:ax.sy(0),stroke:'#000','stroke-width':1.8,'stroke-dasharray':'8,6'},ax.plot);
    
    }
  series.forEach(s=>{
    const xs=s.data.map((v,i)=>startMinute+i);
    polyline(ax,xs,s.data,s.color,2.5,'series-'+s.key);
  });
  const yl=rotLabel(ylabel,62,top+box.h/2,14);
  
  
  if(legend){
    const lg=E('g',{});
    
    
    const h=legend.h||(series.length*22+14);
    E('rect',{x:legend.x,y:legend.y,width:legend.w,height:h,fill:'#fff',stroke:'#000','stroke-width':2.5},lg);
    series.forEach((s,i)=>{
      const Y=legend.y+17+i*(legend.dy||22);
      E('line',{x1:legend.x+9,x2:legend.x+29,y1:Y,y2:Y,stroke:s.color,'stroke-width':3},lg);
      const lt=txt(s.label,legend.x+36,Y+5,13,'start',lg);
      
      
    });
  }
  return ax;
}
tsPanel('magnetic-field-gse-chart',1304,[-8,8],[-8,-6,-4,-2,0,2,4,6,8],null,
  [{key:'bx',data:Bx,color:'#f00',label:'Bx'},{key:'by',data:By,color:'#008000',label:'By'},{key:'bz',data:Bz,color:'#00f',label:'Bz'}],
  'Magnetic Field (GSE Frame)','B(nT)',true,{x:1620,y:1312,w:72,h:72,dy:22});
tsPanel('magnetic-field-flux-rope-chart',1639,[-4,10],[-4,-2,0,2,4,6,8,10],null,
  [{key:'bx-prime',data:BxFR,color:'#f00',label:"Bx'"},{key:'by-prime',data:ByFR,color:'#008000',label:"By'"},{key:'bz-prime',data:BzFR,color:'#00f',label:"Bz'"},{key:'b-magnitude',data:Bmag,color:'#000',label:'|B|'}],
  'Magnetic Field (Flux Rope Frame)','B(nT)',true,{x:1616,y:1646,w:76,h:95,dy:22.5});
tsPanel('solar-wind-velocity-chart',1974,[-600,100],[-600,-500,-400,-300,-200,-100,0,100],null,
  [{key:'vx',data:Vx,color:'#f00',label:'Vx'},{key:'vy',data:Vy,color:'#008000',label:'Vy'},{key:'vz',data:Vz,color:'#00f',label:'Vz'}],
  'Solar Wind Velocity (GSE Frame)','Vsw(km/s)',false,{x:1620,y:1982,w:72,h:73,dy:22.5});
(function(){
  const ax=tsPanel('plasma-beta-chart',2306,[0,5],[0,1,2,3,4,5],null,
    [{key:'beta-p',data:betaP,color:'#00f',label:''}],'Plasma Beta','\u03b2p and \u03b2',false,null);
  const lg=E('g',{});
  
  
  E('rect',{x:1623,y:2313,width:69,height:33,fill:'#fff',stroke:'#000','stroke-width':2.5},lg);
  E('line',{x1:1632,x2:1652,y1:2329,y2:2329,stroke:'#00f','stroke-width':3},lg);
  const lt=E('text',{x:1664,y:2334,'font-size':13,'font-style':'italic','font-family':'"DejaVu Serif",serif'},lg);
  
  
  const a=E('tspan',{},lt);a.textContent='\u03b2';
  const b=E('tspan',{'font-size':9,dy:3},lt);b.textContent='p';
})();
tsPanel('proton-density-chart',2642,[0,40],[0,5,10,15,20,25,30,35,40],null,
  [{key:'np',data:Np,color:'#00f',label:'Np'}],'Proton Number Density','Np(#/cc)',false,null);
tsPanel('proton-temperature-chart',2972,[0,0.5],[0,0.1,0.2,0.3,0.4,0.5],v=>v.toFixed(1),
  [{key:'tp',data:Tp,color:'#00f',label:'Tp'}],['Proton Temperature and '],'Tp(10\u2076K)',false,{x:124,y:2980,w:73,h:28,dy:22});
</script>
</body></html>
